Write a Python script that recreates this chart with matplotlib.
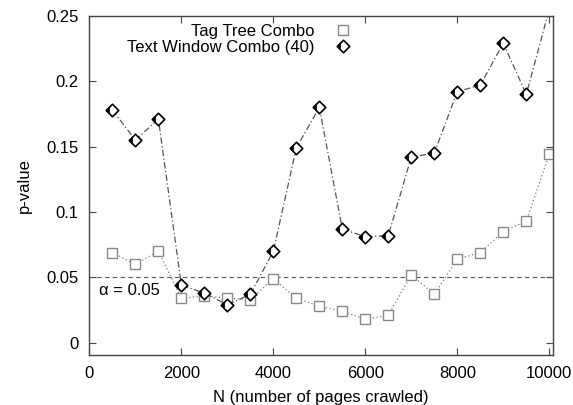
import matplotlib
matplotlib.use("Agg")
from matplotlib import pyplot as plt
from matplotlib.lines import Line2D
from matplotlib.path import Path

plt.rcParams['font.family'] = ['Liberation Sans', 'DejaVu Sans']

# pages crawled
pages = [500, 1000, 1500, 2000, 2500, 3000, 3500, 4000, 4500, 5000,
         5500, 6000, 6500, 7000, 7500, 8000, 8500, 9000, 9500, 10000]
tag_tree = [0.069, 0.060, 0.070, 0.034, 0.036, 0.034, 0.033, 0.049, 0.034, 0.028,
            0.024, 0.018, 0.021, 0.052, 0.037, 0.064, 0.069, 0.085, 0.093, 0.144]
text_window = [0.178, 0.155, 0.171, 0.044, 0.038, 0.029, 0.037, 0.070, 0.149, 0.180,
               0.087, 0.081, 0.082, 0.142, 0.145, 0.192, 0.197, 0.229, 0.190, 0.255]
alpha = 0.05

# gnuplot style diamond: open outline with a small black wedge on the left
diamond = Path([(-1, 0), (0, 1), (1, 0), (0, -1), (-1, 0)], closed=True)
wedge = Path([(-1, 0), (-0.45, 0.55), (-0.45, -0.55), (-1, 0)], closed=True)
dsize = 9

fig = plt.figure(figsize=(5.73, 4.05), dpi=100)
ax = fig.add_axes([0.156, 0.123, 0.809, 0.838])

ax.axhline(alpha, color='#555555', lw=0.8, ls=(0, (4, 3)))

ax.plot(pages, tag_tree, color='#777777', lw=0.9, ls=(0, (1, 2)),
        marker='s', ms=7, mfc='white', mec='#888888', mew=1.0)
ax.plot(pages, text_window, color='#555555', lw=0.9, ls=(0, (5, 2, 1, 2)),
        marker=diamond, ms=dsize, mfc='white', mec='black', mew=1.2)
ax.plot(pages, text_window, ls='none', marker=wedge, ms=dsize,
        mfc='black', mec='black', mew=0.5)

ax.text(210, 0.040, '\u03b1 = 0.05', fontsize=12, va='center', ha='left')

handles = [
    Line2D([], [], ls='none', marker='s', ms=7, mfc='white', mec='#888888', mew=1.0),
    (Line2D([], [], ls='none', marker=diamond, ms=dsize, mfc='white', mec='black', mew=1.2),
     Line2D([], [], ls='none', marker=wedge, ms=dsize, mfc='black', mec='black', mew=0.5)),
]
ax.legend(handles, ['Tag Tree Combo', 'Text Window Combo (40)'], loc='upper right',
          bbox_to_anchor=(0.60, 1.01), frameon=False, markerfirst=False,
          fontsize=12, handlelength=1.5, handletextpad=1.0, labelspacing=0.05,
          borderpad=0.2)

ax.set_xlim(0, 10080)
ax.set_ylim(-0.0095, 0.25)
ax.set_xticks([0, 2000, 4000, 6000, 8000, 10000])
ax.set_yticks([0, 0.05, 0.1, 0.15, 0.2, 0.25])
ax.set_yticklabels(['0', '0.05', '0.1', '0.15', '0.2', '0.25'])
ax.tick_params(direction='in', top=True, right=True, labelsize=12, length=5,
               color='#444444', pad=8)
for s in ax.spines.values():
    s.set_color('#444444')
    s.set_linewidth(1.0)

ax.set_xlabel('N (number of pages crawled)', fontsize=12, labelpad=6)
ax.set_ylabel('p-value', fontsize=12, labelpad=10)

fig.savefig('out.png', dpi=100)
